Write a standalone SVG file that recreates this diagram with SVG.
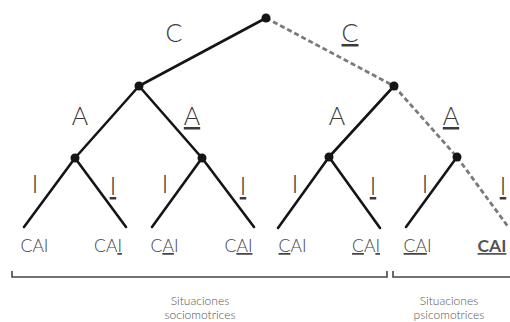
<svg xmlns="http://www.w3.org/2000/svg" width="510" height="322" viewBox="0 0 510 322">
<style>
.e{stroke:#151515;stroke-width:2.6;fill:none;stroke-linecap:round}
.d{stroke:#7a7a7a;stroke-width:2.8;stroke-dasharray:5 3;fill:none}
.n{fill:#151515}
.lb{font-family:"Lato","Liberation Sans",sans-serif;font-size:25px;fill:#3a3a3a;text-anchor:middle;font-weight:300}
.lf{font-family:"Lato","Liberation Sans",sans-serif;font-size:17.5px;fill:#444;text-anchor:middle;font-weight:300}
.lf.b{font-weight:700;fill:#555}
.u{text-decoration:underline}
.br{stroke:#444;stroke-width:1.6;fill:none}
.cap{font-family:"Lato","Liberation Sans",sans-serif;font-size:12px;fill:#555;text-anchor:middle;font-weight:300}
</style>
<rect width="510" height="322" fill="#fff"/>
<g id="connectors">
<line class="e" x1="266" y1="18" x2="139" y2="86"/>
<line class="d" x1="266" y1="18" x2="394" y2="86"/>
<line class="e" x1="139" y1="86" x2="75" y2="158"/>
<line class="e" x1="139" y1="86" x2="202" y2="158"/>
<line class="e" x1="394" y1="86" x2="329" y2="157"/>
<line class="d" x1="394" y1="86" x2="457" y2="157"/>
<line class="e" x1="75" y1="158" x2="24" y2="227"/>
<line class="e" x1="75" y1="158" x2="126" y2="227"/>
<line class="e" x1="202" y1="158" x2="152" y2="227"/>
<line class="e" x1="202" y1="158" x2="254" y2="227"/>
<line class="e" x1="329" y1="157" x2="278" y2="228"/>
<line class="e" x1="329" y1="157" x2="380" y2="228"/>
<line class="e" x1="457" y1="157" x2="406" y2="227"/>
<line class="d" x1="457" y1="157" x2="509" y2="228"/>
</g>
<g id="edge-labels">
<text class="lb" x="174" y="42">C</text>
<text class="lb" x="350" y="42"><tspan class="u">C</tspan></text>
<text class="lb" x="80" y="125">A</text>
<text class="lb" x="192" y="125"><tspan class="u">A</tspan></text>
<text class="lb" x="337" y="125">A</text>
<text class="lb" x="451" y="125"><tspan class="u">A</tspan></text>
<text class="lb" x="35" y="193">I</text>
<text class="lb" x="113" y="195"><tspan class="u">I</tspan></text>
<text class="lb" x="165" y="193">I</text>
<text class="lb" x="243" y="195"><tspan class="u">I</tspan></text>
<text class="lb" x="295" y="193">I</text>
<text class="lb" x="373" y="195"><tspan class="u">I</tspan></text>
<text class="lb" x="425" y="193">I</text>
<text class="lb" x="503" y="195"><tspan class="u">I</tspan></text>
</g>
<g id="n-root"><circle class="n" cx="266" cy="18" r="4.5"/></g>
<g id="n-C"><circle class="n" cx="139" cy="86" r="4.5"/></g>
<g id="n-Cu"><circle class="n" cx="394" cy="86" r="4.5"/></g>
<g id="n-CA"><circle class="n" cx="75" cy="158" r="4.5"/></g>
<g id="n-CAu"><circle class="n" cx="202" cy="158" r="4.5"/></g>
<g id="n-CuA"><circle class="n" cx="329" cy="157" r="4.5"/></g>
<g id="n-CuAu"><circle class="n" cx="457" cy="157" r="4.5"/></g>
<g id="leaf1"><text class="lf" x="34.5" y="252">CAI</text></g>
<g id="leaf2"><text class="lf" x="108" y="252">CA<tspan class="u">I</tspan></text></g>
<g id="leaf3"><text class="lf" x="164.5" y="252">C<tspan class="u">A</tspan>I</text></g>
<g id="leaf4"><text class="lf" x="238.5" y="252">C<tspan class="u">AI</tspan></text></g>
<g id="leaf5"><text class="lf" x="292.5" y="252"><tspan class="u">C</tspan>AI</text></g>
<g id="leaf6"><text class="lf" x="366" y="252"><tspan class="u">C</tspan>A<tspan class="u">I</tspan></text></g>
<g id="leaf7"><text class="lf" x="417.5" y="252"><tspan class="u">CA</tspan>I</text></g>
<g id="leaf8"><text class="lf b" x="492" y="252"><tspan class="u">CAI</tspan></text></g>
<g id="bracket-socio">
<path class="br" d="M12,271 V277 H387 V271"/>
<text class="cap" x="200" y="305">Situaciones</text>
<text class="cap" x="200" y="319">sociomotrices</text>
</g>
<g id="bracket-psico">
<path class="br" d="M393,271 V277 H511"/>
<text class="cap" x="449" y="305">Situaciones</text>
<text class="cap" x="449" y="319">psicomotrices</text>
</g>
</svg>
